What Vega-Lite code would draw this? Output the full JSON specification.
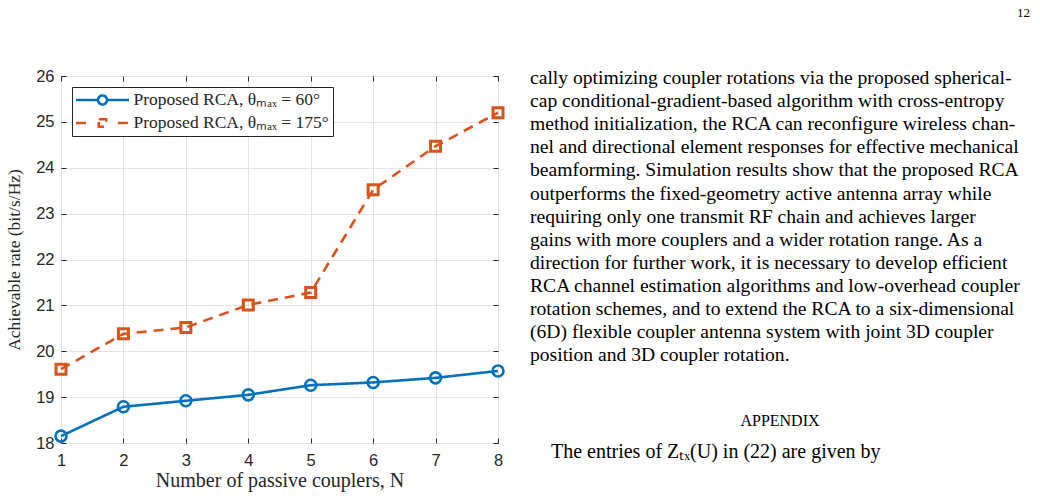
{
  "$schema": "https://vega.github.io/schema/vega-lite/v6.json",
  "padding": {"left": 5, "top": 6, "right": 0, "bottom": 0},
  "background": "white",
  "title": {"text": "12", "anchor": "end", "font": "Liberation Serif", "fontSize": 13, "fontWeight": "normal", "color": "#000000", "offset": 48},
  "bounds": "flush",
  "spacing": 32,
  "config": {
    "view": {"stroke": "#262626", "strokeWidth": 1},
    "axis": {"domain": false, "labelFont": "Liberation Sans", "labelFontSize": 16.5, "labelColor": "#262626", "tickColor": "#262626", "gridColor": "#e3e3e3", "titleFont": "Liberation Serif", "titleFontSize": 17.5, "titleFontWeight": "normal", "titleColor": "#262626"}
  },
  "hconcat": [
    {
      "width": 437,
      "height": 367,
      "data": {"values": [
        {"N": 1, "rate": 18.15, "series": "Proposed RCA, θₘₐₓ = 60°"},
        {"N": 2, "rate": 18.79, "series": "Proposed RCA, θₘₐₓ = 60°"},
        {"N": 3, "rate": 18.92, "series": "Proposed RCA, θₘₐₓ = 60°"},
        {"N": 4, "rate": 19.05, "series": "Proposed RCA, θₘₐₓ = 60°"},
        {"N": 5, "rate": 19.26, "series": "Proposed RCA, θₘₐₓ = 60°"},
        {"N": 6, "rate": 19.32, "series": "Proposed RCA, θₘₐₓ = 60°"},
        {"N": 7, "rate": 19.42, "series": "Proposed RCA, θₘₐₓ = 60°"},
        {"N": 8, "rate": 19.57, "series": "Proposed RCA, θₘₐₓ = 60°"},
        {"N": 1, "rate": 19.61, "series": "Proposed RCA, θₘₐₓ = 175°"},
        {"N": 2, "rate": 20.38, "series": "Proposed RCA, θₘₐₓ = 175°"},
        {"N": 3, "rate": 20.52, "series": "Proposed RCA, θₘₐₓ = 175°"},
        {"N": 4, "rate": 21.01, "series": "Proposed RCA, θₘₐₓ = 175°"},
        {"N": 5, "rate": 21.28, "series": "Proposed RCA, θₘₐₓ = 175°"},
        {"N": 6, "rate": 23.52, "series": "Proposed RCA, θₘₐₓ = 175°"},
        {"N": 7, "rate": 24.47, "series": "Proposed RCA, θₘₐₓ = 175°"},
        {"N": 8, "rate": 25.20, "series": "Proposed RCA, θₘₐₓ = 175°"}
      ]},
      "resolve": {"axis": {"x": "independent", "y": "independent"}},
      "layer": [
        {
          "mark": {"type": "line", "strokeWidth": 2.6},
          "encoding": {
            "x": {"field": "N", "type": "quantitative", "scale": {"domain": [1, 8], "nice": false, "zero": false},
                  "axis": {"orient": "bottom", "values": [1,2,3,4,5,6,7,8], "title": "Number of passive couplers, N", "titleFontSize": 20, "tickSize": -5, "labelPadding": 14, "titlePadding": 2, "grid": true, "labelFlush": false}},
            "y": {"field": "rate", "type": "quantitative", "scale": {"domain": [18, 26], "nice": false, "zero": false},
                  "axis": {"orient": "left", "values": [18,19,20,21,22,23,24,25,26], "title": "Achievable rate (bit/s/Hz)", "tickSize": -5, "labelPadding": 12, "titlePadding": 12, "grid": true, "labelFlush": false}},
            "color": {"field": "series", "type": "nominal",
                      "scale": {"domain": ["Proposed RCA, θₘₐₓ = 60°", "Proposed RCA, θₘₐₓ = 175°"], "range": ["#0072BD", "#D95319"]},
                      "legend": {"title": null, "orient": "top-left", "offset": 11, "padding": 4, "strokeColor": "#262626", "fillColor": "white", "cornerRadius": 0,
                                 "labelFont": "Liberation Serif", "labelFontSize": 17.5, "labelColor": "#262626", "labelLimit": 0, "symbolSize": 100, "symbolOffset": -1.5, "labelOffset": 3, "rowPadding": 5, "clipHeight": 18,
                                 "encode": {"symbols": {"update": {
                                   "shape": {"signal": "datum.value === 'Proposed RCA, θₘₐₓ = 60°' ? 'M-1,0H-0.17M0.17,0H1M-0.17,0A0.17,0.17 0 1,1 0.17,0A0.17,0.17 0 1,1 -0.17,0Z' : 'M-1,0H-0.58M0.58,0H1M-0.14,-0.14H0.14V0.14H-0.14Z'"},
                                   "size": {"value": 2809},
                                   "fill": {"value": "white"},
                                   "strokeWidth": {"value": 2.6},
                                   "strokeDash": {"value": []},
                                   "opacity": {"value": 1}
                                 }}}}},
            "strokeDash": {"field": "series", "type": "nominal", "scale": {"domain": ["Proposed RCA, θₘₐₓ = 60°", "Proposed RCA, θₘₐₓ = 175°"], "range": [[1, 0], [10, 7]]}, "legend": null}
          }
        },
        {
          "transform": [{"filter": "datum.series === 'Proposed RCA, θₘₐₓ = 60°'"}],
          "mark": {"type": "point", "shape": "circle", "size": 121, "filled": false, "strokeWidth": 2.6, "opacity": 1},
          "encoding": {
            "x": {"field": "N", "type": "quantitative", "axis": {"orient": "top", "values": [1,2,3,4,5,6,7,8], "labels": false, "title": null, "tickSize": -5, "grid": false}},
            "y": {"field": "rate", "type": "quantitative", "axis": {"orient": "right", "values": [18,19,20,21,22,23,24,25,26], "labels": false, "title": null, "tickSize": -5, "grid": false}},
            "color": {"field": "series", "type": "nominal"}
          }
        },
        {
          "transform": [{"filter": "datum.series === 'Proposed RCA, θₘₐₓ = 175°'"}],
          "mark": {"type": "point", "shape": "square", "size": 100, "filled": false, "strokeWidth": 3, "opacity": 1},
          "encoding": {
            "x": {"field": "N", "type": "quantitative", "axis": null},
            "y": {"field": "rate", "type": "quantitative", "axis": null},
            "color": {"field": "series", "type": "nominal"}
          }
        }
      ]
    },
    {
      "width": 500,
      "height": 420,
      "view": {"stroke": null},
      "data": {"values": [
        {"line": 1, "text": "cally optimizing coupler rotations via the proposed spherical-"},
        {"line": 2, "text": "cap conditional-gradient-based algorithm with cross-entropy"},
        {"line": 3, "text": "method initialization, the RCA can reconfigure wireless chan-"},
        {"line": 4, "text": "nel and directional element responses for effective mechanical"},
        {"line": 5, "text": "beamforming. Simulation results show that the proposed RCA"},
        {"line": 6, "text": "outperforms the fixed-geometry active antenna array while"},
        {"line": 7, "text": "requiring only one transmit RF chain and achieves larger"},
        {"line": 8, "text": "gains with more couplers and a wider rotation range. As a"},
        {"line": 9, "text": "direction for further work, it is necessary to develop efficient"},
        {"line": 10, "text": "RCA channel estimation algorithms and low-overhead coupler"},
        {"line": 11, "text": "rotation schemes, and to extend the RCA to a six-dimensional"},
        {"line": 12, "text": "(6D) flexible coupler antenna system with joint 3D coupler"},
        {"line": 13, "text": "position and 3D coupler rotation."}
      ]},
      "layer": [
        {
          "mark": {"type": "text", "align": "left", "baseline": "middle", "font": "Liberation Serif", "fontSize": 19.6, "color": "#000000"},
          "encoding": {
            "x": {"datum": 0, "type": "quantitative", "scale": {"domain": [0, 1], "nice": false, "zero": false}, "axis": null},
            "y": {"field": "line", "type": "quantitative", "scale": {"domain": [0.913, 19.095], "nice": false, "zero": false, "reverse": true}, "axis": null},
            "text": {"field": "text"}
          }
        },
        {
          "data": {"values": [{"line": 15.85, "text": "APPENDIX"}]},
          "mark": {"type": "text", "align": "center", "baseline": "middle", "font": "Liberation Serif", "fontSize": 16, "color": "#000000"},
          "encoding": {
            "x": {"datum": 0.5, "type": "quantitative"},
            "y": {"field": "line", "type": "quantitative"},
            "text": {"field": "text"}
          }
        },
        {
          "data": {"values": [{"line": 17.18, "text": "The entries of Zₜₓ(U) in (22) are given by"}]},
          "mark": {"type": "text", "align": "left", "baseline": "middle", "font": "Liberation Serif", "fontSize": 20, "color": "#000000", "dx": 21},
          "encoding": {
            "x": {"datum": 0, "type": "quantitative"},
            "y": {"field": "line", "type": "quantitative"},
            "text": {"field": "text"}
          }
        }
      ]
    }
  ]
}
